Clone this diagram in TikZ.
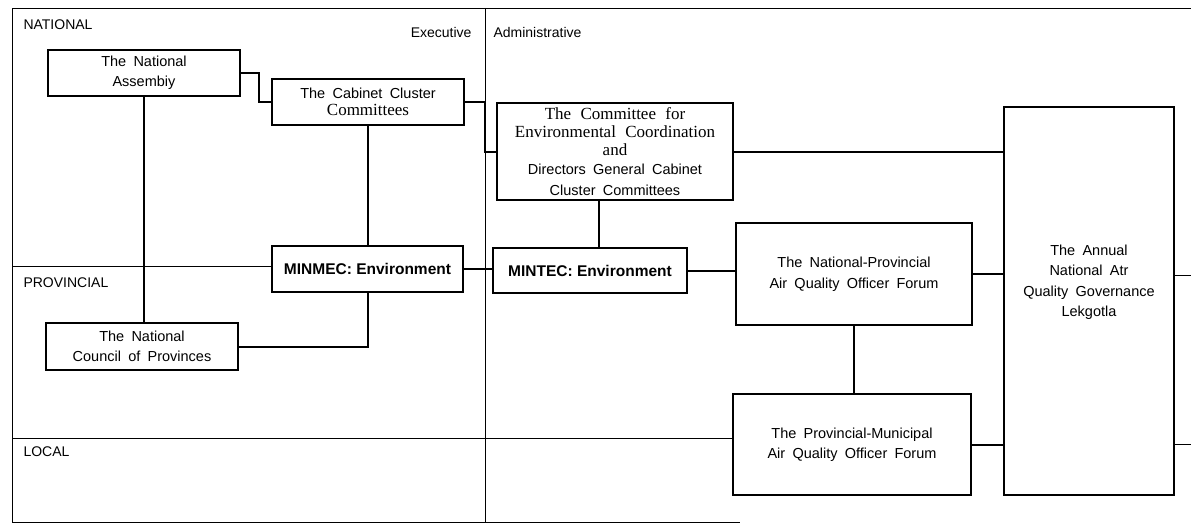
\documentclass[tikz,border=0pt]{standalone}
\usepackage{fontspec}
\setmainfont{Liberation Sans}
\newfontfamily\timesface{Liberation Serif}
\usepackage{tikz}
\usetikzlibrary{calc, positioning}

\newcommand{\widesp}{\spaceskip=0.5em\relax}
\newcommand{\serifline}[1]{{\timesface\fontsize{17}{18}\selectfont\spaceskip=0.55em\relax #1}}

\begin{document}
\begin{tikzpicture}[x=1pt, y=-1pt,
        box/.style={draw, rectangle, line width=1.1pt, inner sep=0pt, align=center, font=\fontsize{14.5}{20.5}\selectfont\widesp},
        minbox/.style={box, font=\bfseries\fontsize{15.5}{18}\selectfont},
        link/.style={line width=2pt},
        level/.style={line width=0.8pt},
        tier/.style={anchor=west, font=\fontsize{14}{16}\selectfont}]
        \useasboundingbox (0,0) rectangle (1191,527);

        \coordinate (topL) at (12,8);
        \coordinate (topR) at (1191,8);
        \coordinate (botL) at (12,522);
        \coordinate (botR) at (740,522);
        \coordinate (divT) at (485,8);
        \coordinate (divB) at (485,522);
        \coordinate (provL) at (12,266);
        \coordinate (localL) at (12,438);
        \coordinate (edgeP) at (1191,275);
        \coordinate (edgeL) at (1191,444);

        \draw[level] (topR) -- (topL) -- (botL) -- (botR);
        \draw[level] (divT) -- (divB);

        \node[tier] (natLbl) at (20,25) {NATIONAL};
        \node[tier, anchor=east] (execLbl) at (475,32) {Executive};
        \node[tier] (admLbl) at (490,32) {Administrative};
        \node[tier] (provLbl) at (20,283) {PROVINCIAL};
        \node[tier] (locLbl) at (20,452) {LOCAL};

        \node[box, minimum width=192, minimum height=46] (NA) at (144,73) {The National\\Assembiy};
        \node[box, minimum width=192, minimum height=46] (CCC) at (368,102) {The Cabinet Cluster\\[-3pt]\serifline{Committees}};
        \node[box, minimum width=236, minimum height=97] (CEC) at (615,151.5) {\serifline{The Committee for}\\[-2.5pt]\serifline{Environmental Coordination}\\[-2.5pt]\serifline{and}\\[-1.5pt]Directors General Cabinet\\Cluster Committees};
        \node[box, minimum width=170, minimum height=388] (Lek) at (1089,301) {The Annual\\National Atr\\Quality Governance\\Lekgotla\\[20pt]\mbox{}};
        \node[minbox, minimum width=191, minimum height=46] (MINMEC) at (367.5,269) {MINMEC: Environment};
        \node[minbox, minimum width=194, minimum height=45] (MINTEC) at (590,270.5) {MINTEC: Environment};
        \node[box, minimum width=192, minimum height=47] (NCOP) at (142,346.5) {The National\\Council of Provinces};
        \node[box, minimum width=236, minimum height=102] (NP) at (854,274) {The National-Provincial\\Air Quality Officer Forum};
        \node[box, minimum width=238, minimum height=101] (PM) at (852,444.5) {The Provincial-Municipal\\Air Quality Officer Forum};

        \coordinate (mtTop) at ($(MINTEC.north)+(9,0)$);

        \draw[level] (provL) -- (provL -| MINMEC.west);
        \draw[level] (localL) -- (localL -| PM.west);

        \draw[link] (NA.east) -- ++(18,0) |- (CCC.west);
        \draw[link] (CCC.east) -- (CCC.east -| divT) |- (CEC.west);
        \draw[link] (CEC.east) -- (CEC.east -| Lek.west);
        \draw[link] (CCC.south) -- (CCC.south |- MINMEC.north);
        \draw[link] (mtTop) -- (mtTop |- CEC.south);
        \draw[link] (NA.south) -- (NA.south |- NCOP.north);
        \draw[link] (NCOP.east) -| (MINMEC.south);
        \draw[link] (MINMEC.east) -- (MINMEC.east -| MINTEC.west);
        \draw[link] (MINTEC.east) -- (MINTEC.east -| NP.west);
        \draw[link] (NP.east) -- (NP.east -| Lek.west);
        \draw[link] (NP.south) -- (NP.south |- PM.north);
        \draw[link] (PM.east) -- (PM.east -| Lek.west);
        \draw[level] (Lek.east |- edgeP) -- (edgeP);
        \draw[level] (Lek.east |- edgeL) -- (edgeL);
    \end{tikzpicture}
\end{document}
